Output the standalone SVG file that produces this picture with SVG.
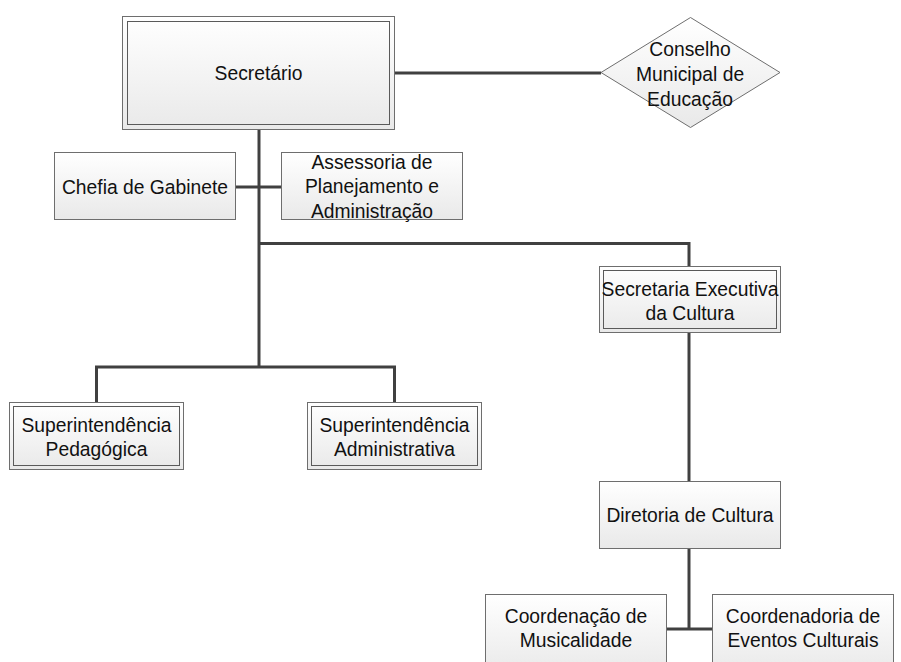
<svg xmlns="http://www.w3.org/2000/svg" width="901" height="662" viewBox="0 0 901 662">
<style>
.box{fill:url(#g);stroke:#6e6e6e;stroke-width:1}
.inner{fill:none;stroke:#5a5a5a;stroke-width:1}
.lbl{font-family:"Liberation Sans",Arial,sans-serif;font-size:19.3px;fill:#111;text-anchor:middle}
.con{fill:none;stroke:#404040;stroke-width:3}
</style>
<defs>
<linearGradient id="g" x1="0" y1="0" x2="0" y2="1">
<stop offset="0" stop-color="#ffffff"/>
<stop offset="1" stop-color="#e9e9e9"/>
</linearGradient>
</defs>
<rect width="901" height="662" fill="#fff"/>
<g id="connectors">
<path class="con" d="M395 73H601"/>
<path class="con" d="M259 129V367"/>
<path class="con" d="M236 187H281"/>
<path class="con" d="M259 243.5H689V266"/>
<path class="con" d="M96.5 402V367H394.5V402"/>
<path class="con" d="M689 333V481"/>
<path class="con" d="M689 549V629"/>
<path class="con" d="M667 629H712"/>
</g>
<g id="secretario">
<rect class="box" x="122.5" y="16.5" width="272" height="113"/>
<rect class="inner" x="127.5" y="21.5" width="262" height="103"/>
<text class="lbl" x="258.5" y="79.5">Secretário</text>
</g>
<g id="conselho">
<polygon class="box" points="601,72.5 690.5,17.5 780,72.5 690.5,127.5"/>
<text class="lbl" x="690" y="55.5">Conselho</text>
<text class="lbl" x="690" y="80.5">Municipal de</text>
<text class="lbl" x="690" y="105.5">Educação</text>
</g>
<g id="chefia">
<rect class="box" x="54.5" y="152.5" width="181" height="67"/>
<text class="lbl" x="145" y="193.5">Chefia de Gabinete</text>
</g>
<g id="assessoria">
<rect class="box" x="281.5" y="152.5" width="181" height="67"/>
<text class="lbl" x="372" y="168.5">Assessoria de</text>
<text class="lbl" x="372" y="193">Planejamento e</text>
<text class="lbl" x="372" y="217.5">Administração</text>
</g>
<g id="sec-executiva">
<rect class="box" x="599.5" y="266.5" width="181" height="66"/>
<rect class="inner" x="603.5" y="270.5" width="173" height="58"/>
<text class="lbl" x="690" y="295.5">Secretaria Executiva</text>
<text class="lbl" x="690" y="320">da Cultura</text>
</g>
<g id="sup-pedagogica">
<rect class="box" x="9.5" y="402.5" width="174" height="67"/>
<rect class="inner" x="13.5" y="406.5" width="166" height="59"/>
<text class="lbl" x="96.5" y="431.5">Superintendência</text>
<text class="lbl" x="96.5" y="455.5">Pedagógica</text>
</g>
<g id="sup-administrativa">
<rect class="box" x="307.5" y="402.5" width="174" height="67"/>
<rect class="inner" x="311.5" y="406.5" width="166" height="59"/>
<text class="lbl" x="394.5" y="431.5">Superintendência</text>
<text class="lbl" x="394.5" y="455.5">Administrativa</text>
</g>
<g id="diretoria">
<rect class="box" x="599.5" y="481.5" width="181" height="67"/>
<text class="lbl" x="690" y="521.5">Diretoria de Cultura</text>
</g>
<g id="coord-musicalidade">
<rect class="box" x="485.5" y="594.5" width="181" height="80"/>
<text class="lbl" x="576" y="623">Coordenação de</text>
<text class="lbl" x="576" y="647">Musicalidade</text>
</g>
<g id="coord-eventos">
<rect class="box" x="712.5" y="594.5" width="181" height="80"/>
<text class="lbl" x="803" y="623">Coordenadoria de</text>
<text class="lbl" x="803" y="647">Eventos Culturais</text>
</g>
</svg>
